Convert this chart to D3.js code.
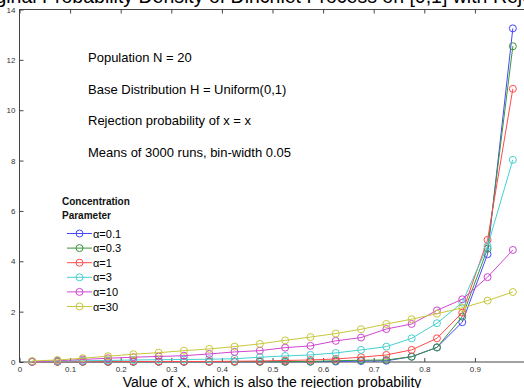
<!DOCTYPE html>
<html lang="en">
<head>
<meta charset="utf-8">
<title>Dirichlet process rejection density</title>
<script src="https://cdnjs.cloudflare.com/ajax/libs/d3/7.8.5/d3.min.js"></script>
<style>
  body { margin: 0; background: #fff; }
  svg { display: block; font-family: "Liberation Sans", Arial, sans-serif; }
</style>
</head>
<body>
<div id="chart"></div>
<script>
// bin centres, bin-width 0.05
var binCentres = [0.025, 0.075, 0.125, 0.175, 0.225, 0.275, 0.325, 0.375, 0.425, 0.475,
                  0.525, 0.575, 0.625, 0.675, 0.725, 0.775, 0.825, 0.875, 0.925, 0.975];

var alphaLabels = ["\u03b1=0.1", "\u03b1=0.3", "\u03b1=1", "\u03b1=3", "\u03b1=10", "\u03b1=30"];
var seriesColors = ["#4646ff", "#3a963a", "#ff4a4a", "#46d0d0", "#d046d0", "#c8c83c"];

var alpha01 = [0.01, 0.01, 0.01, 0.01, 0.01, 0.01, 0.01, 0.01, 0.01, 0.01, 0.01, 0.01, 0.02, 0.04, 0.05, 0.21, 0.58, 1.58, 4.28, 13.25];
var alpha03 = [0.01, 0.01, 0.01, 0.01, 0.01, 0.01, 0.01, 0.01, 0.01, 0.01, 0.01, 0.02, 0.05, 0.07, 0.08, 0.21, 0.58, 1.80, 4.50, 12.54];
var alpha1  = [0.01, 0.01, 0.01, 0.01, 0.02, 0.02, 0.02, 0.02, 0.03, 0.04, 0.06, 0.08, 0.12, 0.19, 0.28, 0.48, 0.94, 1.96, 4.85, 10.85];
var alpha3  = [0.02, 0.03, 0.05, 0.06, 0.08, 0.09, 0.10, 0.11, 0.13, 0.19, 0.24, 0.28, 0.36, 0.48, 0.61, 0.94, 1.54, 2.36, 4.60, 8.03];
var alpha10 = [0.01, 0.05, 0.10, 0.15, 0.19, 0.22, 0.25, 0.32, 0.40, 0.45, 0.57, 0.64, 0.84, 0.97, 1.31, 1.51, 2.05, 2.49, 3.37, 4.45];
var alpha30 = [0.04, 0.08, 0.15, 0.23, 0.31, 0.37, 0.45, 0.52, 0.61, 0.72, 0.86, 0.99, 1.13, 1.30, 1.51, 1.70, 1.92, 2.15, 2.44, 2.78];
var allSeries = [alpha01, alpha03, alpha1, alpha3, alpha10, alpha30];

var xTicks = [0, 0.1, 0.2, 0.3, 0.4, 0.5, 0.6, 0.7, 0.8, 0.9];
var yTicks = [0, 2, 4, 6, 8, 10, 12, 14];

var notes = ["Population N = 20", "Base Distribution H = Uniform(0,1)",
             "Rejection probability of x = x", "Means of 3000 runs, bin-width 0.05"];

var width = 524, height = 388;
var plotLeft = 19.5, plotTop = 9.5, plotBottom = 362, plotRight = 525.5;

var svg = d3.select("#chart").append("svg").attr("width", width).attr("height", height);

var x = d3.scaleLinear().domain([0, 1]).range([plotLeft, plotRight]);
var y = d3.scaleLinear().domain([0, 14]).range([plotBottom, plotTop]);

// title, mostly cut off at the top
svg.append("text").attr("x", 268).attr("y", 3).attr("text-anchor", "middle")
    .attr("font-size", "19.5px").attr("fill", "#000")
    .text("Marginal Probability Density of Dirichlet Process on [0,1] with Rejection");

// axes box
var axisColor = "#444";
svg.append("rect").attr("x", plotLeft).attr("y", plotTop)
    .attr("width", plotRight - plotLeft).attr("height", plotBottom - plotTop)
    .attr("fill", "none").attr("stroke", axisColor).attr("stroke-width", 1);

var xAxis = d3.axisBottom(x).tickValues(xTicks).tickSize(-4).tickPadding(4).tickFormat(d3.format("~g"));
var xTop = d3.axisTop(x).tickValues(xTicks).tickSize(-4).tickFormat("");
var yAxis = d3.axisLeft(y).tickValues(yTicks).tickSize(-4).tickPadding(4).tickFormat(d3.format("d"));

function styleAxis(g) {
    g.select(".domain").remove();
    g.selectAll(".tick line").attr("stroke", axisColor);
    g.selectAll(".tick text").attr("fill", "#333").attr("font-size", "8px")
        .attr("font-family", "Liberation Sans, Arial, sans-serif");
}
svg.append("g").attr("transform", "translate(0," + plotBottom + ")").call(xAxis).call(styleAxis);
svg.append("g").attr("transform", "translate(0," + plotTop + ")").call(xTop).call(styleAxis);
svg.append("g").attr("transform", "translate(" + plotLeft + ",0)").call(yAxis).call(styleAxis);

svg.append("text").attr("x", 272).attr("y", 386.5).attr("text-anchor", "middle")
    .attr("font-size", "14px").attr("fill", "#000")
    .text("Value of X, which is also the rejection probability");

// series
var line = d3.line().x(function(d, i) { return x(binCentres[i]); }).y(function(d) { return y(d); });

allSeries.forEach(function(vals, k) {
    var g = svg.append("g");
    g.append("path").datum(vals).attr("d", line).attr("fill", "none")
        .attr("stroke", seriesColors[k]).attr("stroke-width", 1);
    g.selectAll("circle").data(vals).enter().append("circle")
        .attr("cx", function(d, i) { return x(binCentres[i]); })
        .attr("cy", function(d) { return y(d); })
        .attr("r", 3.5).attr("fill", "none")
        .attr("stroke", seriesColors[k]).attr("stroke-width", 1);
});

// notes
notes.forEach(function(t, i) {
    svg.append("text").attr("x", 88).attr("y", 62 + i * 31.5)
        .attr("font-size", "13px").attr("fill", "#000").text(t);
});

// legend
var lg = svg.append("g");
lg.append("text").attr("x", 62).attr("y", 205).attr("font-size", "10px").attr("font-weight", "bold")
    .attr("fill", "#111").text("Concentration");
lg.append("text").attr("x", 62).attr("y", 219).attr("font-size", "10px").attr("font-weight", "bold")
    .attr("fill", "#111").text("Parameter");
alphaLabels.forEach(function(lab, i) {
    var ly = 233.5 + i * 14.6;
    lg.append("line").attr("x1", 67).attr("x2", 92).attr("y1", ly).attr("y2", ly)
        .attr("stroke", seriesColors[i]).attr("stroke-width", 1);
    lg.append("circle").attr("cx", 79.5).attr("cy", ly).attr("r", 3.5).attr("fill", "none")
        .attr("stroke", seriesColors[i]).attr("stroke-width", 1);
    lg.append("text").attr("x", 93).attr("y", ly + 4).attr("font-size", "11px").attr("fill", "#000").text(lab);
});
</script>
</body>
</html>
